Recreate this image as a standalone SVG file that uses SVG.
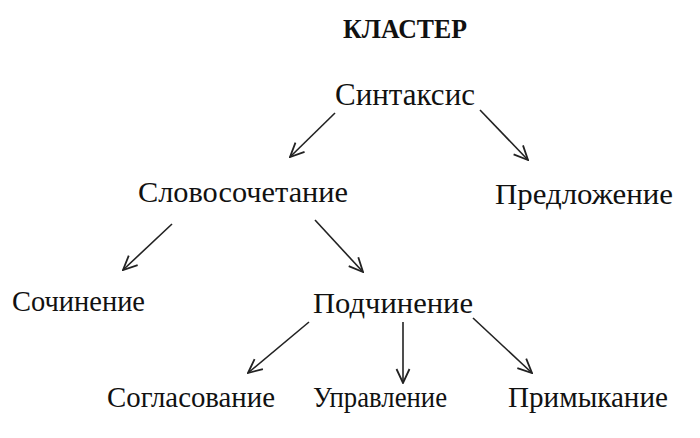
<svg xmlns="http://www.w3.org/2000/svg" width="700" height="438" viewBox="0 0 700 438">
<style>
.t{font-family:"Liberation Serif","DejaVu Serif",serif;font-size:30px;fill:#111}
.h{font-family:"Liberation Serif","DejaVu Serif",serif;font-size:28px;font-weight:bold;fill:#111}
.c{stroke:#222;stroke-width:1.6;fill:none}
</style>
<defs>
<marker id="a" viewBox="0 0 16 16" refX="15" refY="8" markerWidth="16" markerHeight="16" markerUnits="userSpaceOnUse" orient="auto">
<path d="M1,1.5 L15,8 L1,14.5" fill="none" stroke="#222" stroke-width="1.8"/>
</marker>
</defs>
<rect width="700" height="438" fill="#fff"/>
<g id="title"><text class="h" x="343" y="38" textLength="124" lengthAdjust="spacingAndGlyphs">КЛАСТЕР</text></g>
<g id="n-syntax"><text class="t" x="335" y="105" style="font-size:31px" textLength="140" lengthAdjust="spacingAndGlyphs">Синтаксис</text></g>
<g id="n-slovo"><text class="t" x="138" y="202" textLength="210" lengthAdjust="spacingAndGlyphs">Словосочетание</text></g>
<g id="n-predl"><text class="t" x="495" y="204" textLength="178" lengthAdjust="spacingAndGlyphs">Предложение</text></g>
<g id="n-soch"><text class="t" x="12" y="311" textLength="133" lengthAdjust="spacingAndGlyphs">Сочинение</text></g>
<g id="n-podch"><text class="t" x="313" y="313" textLength="160" lengthAdjust="spacingAndGlyphs">Подчинение</text></g>
<g id="n-sogl"><text class="t" x="107" y="407" textLength="168" lengthAdjust="spacingAndGlyphs">Согласование</text></g>
<g id="n-uprav"><text class="t" x="313" y="407" textLength="134" lengthAdjust="spacingAndGlyphs">Управление</text></g>
<g id="n-primyk"><text class="t" x="508" y="407" textLength="160" lengthAdjust="spacingAndGlyphs">Примыкание</text></g>
<g id="connectors">
<line class="c" x1="335" y1="113" x2="290" y2="157" marker-end="url(#a)"/>
<line class="c" x1="480" y1="110" x2="528" y2="160" marker-end="url(#a)"/>
<line class="c" x1="172" y1="224" x2="123" y2="270" marker-end="url(#a)"/>
<line class="c" x1="315" y1="220" x2="363" y2="272" marker-end="url(#a)"/>
<line class="c" x1="309" y1="322" x2="248" y2="373" marker-end="url(#a)"/>
<line class="c" x1="403" y1="322" x2="403" y2="383" marker-end="url(#a)"/>
<line class="c" x1="473" y1="318" x2="532" y2="373" marker-end="url(#a)"/>
</g>
</svg>
